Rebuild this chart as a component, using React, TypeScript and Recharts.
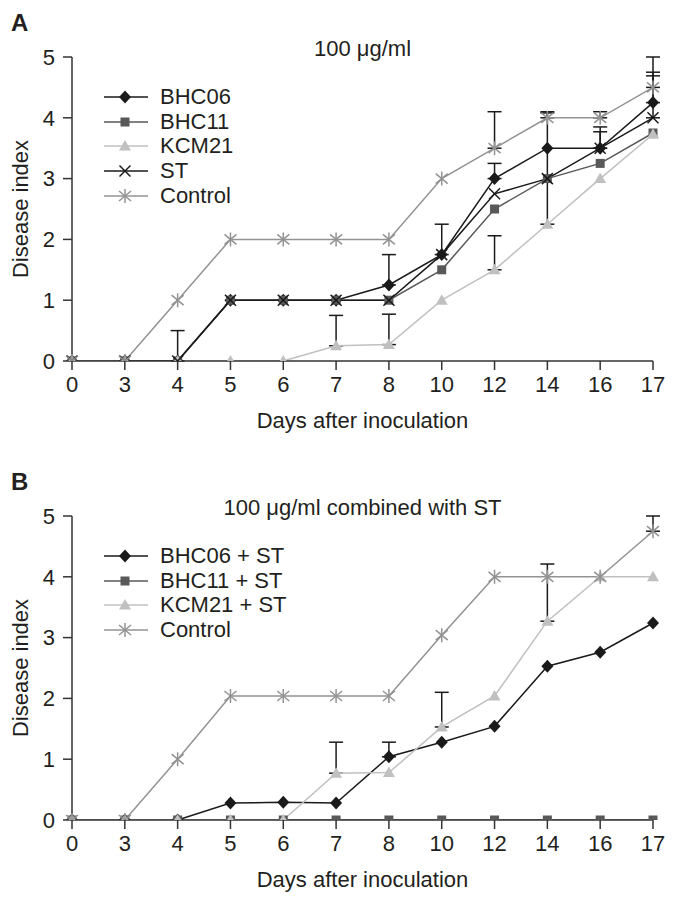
import React from 'react'
import { LineChart, Line, XAxis, YAxis, ErrorBar, Legend } from 'recharts'

const days = ['0', '3', '4', '5', '6', '7', '8', '10', '12', '14', '16', '17']

// panel A: 100 ug/ml
const bhc06A = [0, 0, 0, 1, 1, 1, 1.25, 1.75, 3, 3.5, 3.5, 4.25]
const bhc11A = [0, 0, 0, 1, 1, 1, 1, 1.5, 2.5, 3, 3.25, 3.75]
const kcm21A = [0, 0, 0, 0, 0, 0.25, 0.27, 1, 1.5, 2.25, 3, 3.73]
const stA = [0, 0, 0, 1, 1, 1, 1, 1.75, 2.75, 3, 3.5, 4]
const controlA = [0, 0, 1, 2, 2, 2, 2, 3, 3.5, 4, 4, 4.5]
// upward error bars (null = none)
const errBhc06A = [null, null, null, null, null, null, 0.5, 0.5, 0.25, null, 0.35, 0.5]
const errKcm21A = [null, null, null, null, null, 0.5, 0.5, null, 0.56, 1.83, null, null]
const errStA = [null, null, 0.5, null, null, null, null, null, null, null, 0.27, 0.69]
const errControlA = [null, null, null, null, null, null, null, null, 0.6, 0.1, 0.1, 0.5]

// panel B: combined with ST
const bhc06B = [0, 0, 0, 0.28, 0.29, 0.28, 1.04, 1.28, 1.54, 2.53, 2.76, 3.24]
const bhc11B = [0, 0, 0, 0, 0, 0, 0, 0, 0, 0, 0, 0]
const kcm21B = [0, 0, 0, 0, 0, 0.77, 0.78, 1.53, 2.04, 3.27, 4, 4]
const controlB = [0, 0, 1, 2.04, 2.04, 2.04, 2.04, 3.04, 4, 4, 4, 4.75]
const errBhc06B = [null, null, null, null, null, null, 0.24, null, null, null, null, null]
const errKcm21B = [null, null, null, null, null, 0.51, null, 0.57, null, 0.94, null, null]
const errControlB = [null, null, null, null, null, null, null, null, null, null, null, 0.25]

const yTicks = [0, 1, 2, 3, 4, 5]

const FONT = '"Liberation Sans", Arial, Helvetica, sans-serif'
const TEXT = '#231f20'

type Kind = 'diamond' | 'square' | 'triangle' | 'x' | 'star'

function Marker({ kind, color, cx, cy }: { kind: Kind; color: string; cx: number; cy: number }) {
  if (cx == null || cy == null) return null
  if (kind === 'diamond') {
    return <polygon points={`${cx},${cy - 6.5} ${cx + 6},${cy} ${cx},${cy + 6.5} ${cx - 6},${cy}`} fill={color} />
  }
  if (kind === 'square') {
    return <rect x={cx - 4.5} y={cy - 4.5} width={9} height={9} fill={color} />
  }
  if (kind === 'triangle') {
    return <polygon points={`${cx},${cy - 6} ${cx + 6},${cy + 4.5} ${cx - 6},${cy + 4.5}`} fill={color} />
  }
  if (kind === 'x') {
    return (
      <g stroke={color} strokeWidth={1.5}>
        <line x1={cx - 5.5} y1={cy - 5.5} x2={cx + 5.5} y2={cy + 5.5} />
        <line x1={cx - 5.5} y1={cy + 5.5} x2={cx + 5.5} y2={cy - 5.5} />
      </g>
    )
  }
  return (
    <g stroke={color} strokeWidth={1.5}>
      <line x1={cx} y1={cy - 7} x2={cx} y2={cy + 7} />
      <line x1={cx - 6} y1={cy - 5} x2={cx + 6} y2={cy + 5} />
      <line x1={cx - 6} y1={cy + 5} x2={cx + 6} y2={cy - 5} />
    </g>
  )
}

interface Series {
  key: string
  name: string
  color: string
  kind: Kind
  values: number[]
  err: (number | null)[] | null
}

function LegendBox({ payload, series }: any) {
  const keys = (payload || []).map((p: any) => p.dataKey)
  return (
    <div style={{ fontFamily: FONT, fontSize: 22, color: TEXT }}>
      {series.filter((s: Series) => keys.includes(s.key)).map((s: Series) => (
        <div key={s.key} style={{ display: 'flex', alignItems: 'center', height: 24.6 }}>
          <svg width={44} height={24} style={{ marginRight: 12 }}>
            <line x1={0} y1={12} x2={44} y2={12} stroke={s.color} strokeWidth={1.5} />
            <Marker kind={s.kind} color={s.color} cx={21} cy={12} />
          </svg>
          <span style={{ lineHeight: '24px' }}>{s.name}</span>
        </div>
      ))}
    </div>
  )
}

function Panel({ letter, title, series, height, top }: { letter: string; title: string; series: Series[]; height: number; top: number }) {
  const data = days.map((d, i) => {
    const row: any = { day: d }
    series.forEach(s => {
      row[s.key] = s.values[i]
      const e = s.err ? s.err[i] : null
      row[s.key + 'Err'] = e == null ? null : [0, e]
    })
    return row
  })

  const textStyle: React.CSSProperties = { position: 'absolute', fontFamily: FONT, fontSize: 22, lineHeight: '22px', color: TEXT, whiteSpace: 'nowrap' }

  return (
    <div style={{ position: 'absolute', left: 0, top, width: 677, height }}>
      <LineChart width={677} height={height} data={data} margin={{ top: 57, right: 24, left: 0, bottom: height - 361 - 40 }}>
        <XAxis
          dataKey="day"
          interval={0}
          height={40}
          tickSize={9}
          tickMargin={6}
          stroke="#333"
          strokeWidth={1.5}
          tick={{ fontSize: 22, fill: TEXT, fontFamily: FONT }}
        />
        <YAxis
          width={72}
          domain={[0, 5]}
          allowDataOverflow
          ticks={yTicks}
          tickSize={9}
          tickMargin={8}
          stroke="#333"
          strokeWidth={1.5}
          tick={{ fontSize: 22, fill: TEXT, fontFamily: FONT }}
        />
        <Legend
          layout="vertical"
          align="center"
          verticalAlign="middle"
          wrapperStyle={{ top: 85, left: 104, width: 'auto' }}
          content={(props: any) => <LegendBox {...props} series={series} />}
        />
        {series.map(s => (
          <Line
            key={s.key}
            dataKey={s.key}
            name={s.name}
            stroke={s.color}
            strokeWidth={1.5}
            isAnimationActive={false}
            activeDot={false}
            dot={(p: any) => <Marker key={`${s.key}-${p.index}`} kind={s.kind} color={s.color} cx={p.cx} cy={p.cy} />}
          >
            {s.err && <ErrorBar dataKey={s.key + 'Err'} width={7} strokeWidth={1.5} stroke="#1a1a1a" direction="y" />}
          </Line>
        ))}
      </LineChart>
      <div style={{ ...textStyle, left: 11, top: 11, fontSize: 24, lineHeight: '24px', fontWeight: 'bold' }}>{letter}</div>
      <div style={{ ...textStyle, left: 72, width: 581, top: 38, textAlign: 'center' }}>{title}</div>
      <div style={{ ...textStyle, left: 72, width: 581, top: 410, textAlign: 'center' }}>Days after inoculation</div>
      <div style={{ ...textStyle, left: 21 - 100, top: 209 - 11, width: 200, textAlign: 'center', transform: 'rotate(-90deg)' }}>Disease index</div>
    </div>
  )
}

const seriesA: Series[] = [
  { key: 'bhc06', name: 'BHC06', color: '#1a1a1a', kind: 'diamond', values: bhc06A, err: errBhc06A },
  { key: 'bhc11', name: 'BHC11', color: '#595959', kind: 'square', values: bhc11A, err: null },
  { key: 'kcm21', name: 'KCM21', color: '#c0c0c0', kind: 'triangle', values: kcm21A, err: errKcm21A },
  { key: 'st', name: 'ST', color: '#1a1a1a', kind: 'x', values: stA, err: errStA },
  { key: 'control', name: 'Control', color: '#939393', kind: 'star', values: controlA, err: errControlA },
]

const seriesB: Series[] = [
  { key: 'bhc06', name: 'BHC06 + ST', color: '#1a1a1a', kind: 'diamond', values: bhc06B, err: errBhc06B },
  { key: 'bhc11', name: 'BHC11 + ST', color: '#595959', kind: 'square', values: bhc11B, err: null },
  { key: 'kcm21', name: 'KCM21 + ST', color: '#c0c0c0', kind: 'triangle', values: kcm21B, err: errKcm21B },
  { key: 'control', name: 'Control', color: '#939393', kind: 'star', values: controlB, err: errControlB },
]

export default function App() {
  return (
    <div style={{ position: 'absolute', left: 0, top: 0, width: 677, height: 903, background: '#fff' }}>
      <Panel letter="A" title="100 μg/ml" series={seriesA} height={451} top={0} />
      <Panel letter="B" title="100 μg/ml combined with ST" series={seriesB} height={444} top={459} />
    </div>
  )
}
